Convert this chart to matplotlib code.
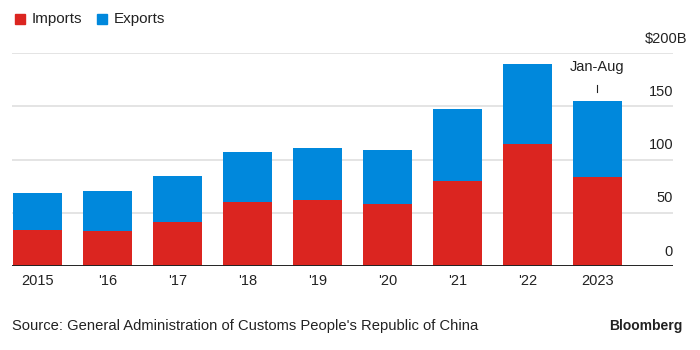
import matplotlib.pyplot as plt
import numpy as np

plt.rcParams['font.family'] = ['Liberation Sans', 'DejaVu Sans']

years = ["2015", "'16", "'17", "'18", "'19", "'20", "'21", "'22", "2023"]
imports = [34, 33, 41.5, 60, 62, 58.5, 80, 115, 83.5]
exports = [34.5, 37, 43, 47, 49, 50, 67, 75, 71.5]
y_ticks = [0, 50, 100, 150, 200]
y_labels = ["0", "50", "100", "150", "$200B"]

RED = "#DB2520"
BLUE = "#0088DC"

fig = plt.figure(figsize=(7, 3.5), dpi=100)
ax = fig.add_axes([12 / 700, 84 / 350, 661 / 700, 213 / 350])

x = np.arange(len(years))
ax.bar(x, imports, width=0.7, color=RED, zorder=3)
ax.bar(x, exports, width=0.7, bottom=imports, color=BLUE, zorder=3)

ax.set_xlim(-0.364, 9.08)
ax.set_ylim(0, 200)

for t in y_ticks[1:]:
    ax.axhline(t, color="#e2e2e2", lw=1.3, zorder=1)
ax.axhline(0, color="#222222", lw=1.4, zorder=4)

# y labels sit above the gridlines at the right end, the unit label hangs past it
for t, lab in zip(y_ticks, y_labels):
    xr = 9.08 if t < 200 else 9.28
    ax.text(xr, t + 7, lab, ha="right", va="bottom", fontsize=10.5,
            color="#222222", clip_on=False)

ax.set_xticks(x)
ax.set_xticklabels(years, fontsize=10.5, color="#222222")
ax.tick_params(axis="x", length=0, pad=6)
ax.set_yticks([])
for s in ax.spines.values():
    s.set_visible(False)

# Jan-Aug note on last bar
total_last = imports[-1] + exports[-1]
ax.plot([x[-1], x[-1]], [total_last + 8, total_last + 15], color="#222222",
        lw=0.8, zorder=4)
ax.text(x[-1], total_last + 25, "Jan-Aug", ha="center", va="bottom",
        fontsize=10.5, color="#222222")

# legend
fig.patches.append(plt.Rectangle((15 / 700, 1 - 24 / 350), 10 / 700, 10 / 350,
                                 transform=fig.transFigure, color=RED))
fig.text(32 / 700, 1 - 19 / 350, "Imports", fontsize=11, va="center", color="#222222")
fig.patches.append(plt.Rectangle((97 / 700, 1 - 24 / 350), 10 / 700, 10 / 350,
                                 transform=fig.transFigure, color=BLUE))
fig.text(114 / 700, 1 - 19 / 350, "Exports", fontsize=11, va="center", color="#222222")

fig.text(12 / 700, 1 - 326 / 350,
         "Source: General Administration of Customs People's Republic of China",
         fontsize=10.6, va="center", color="#222222")
fig.text(682 / 700, 1 - 326 / 350, "Bloomberg", fontsize=10, fontweight="bold",
         ha="right", va="center", color="#222222")

fig.savefig("out.png", dpi=100)
